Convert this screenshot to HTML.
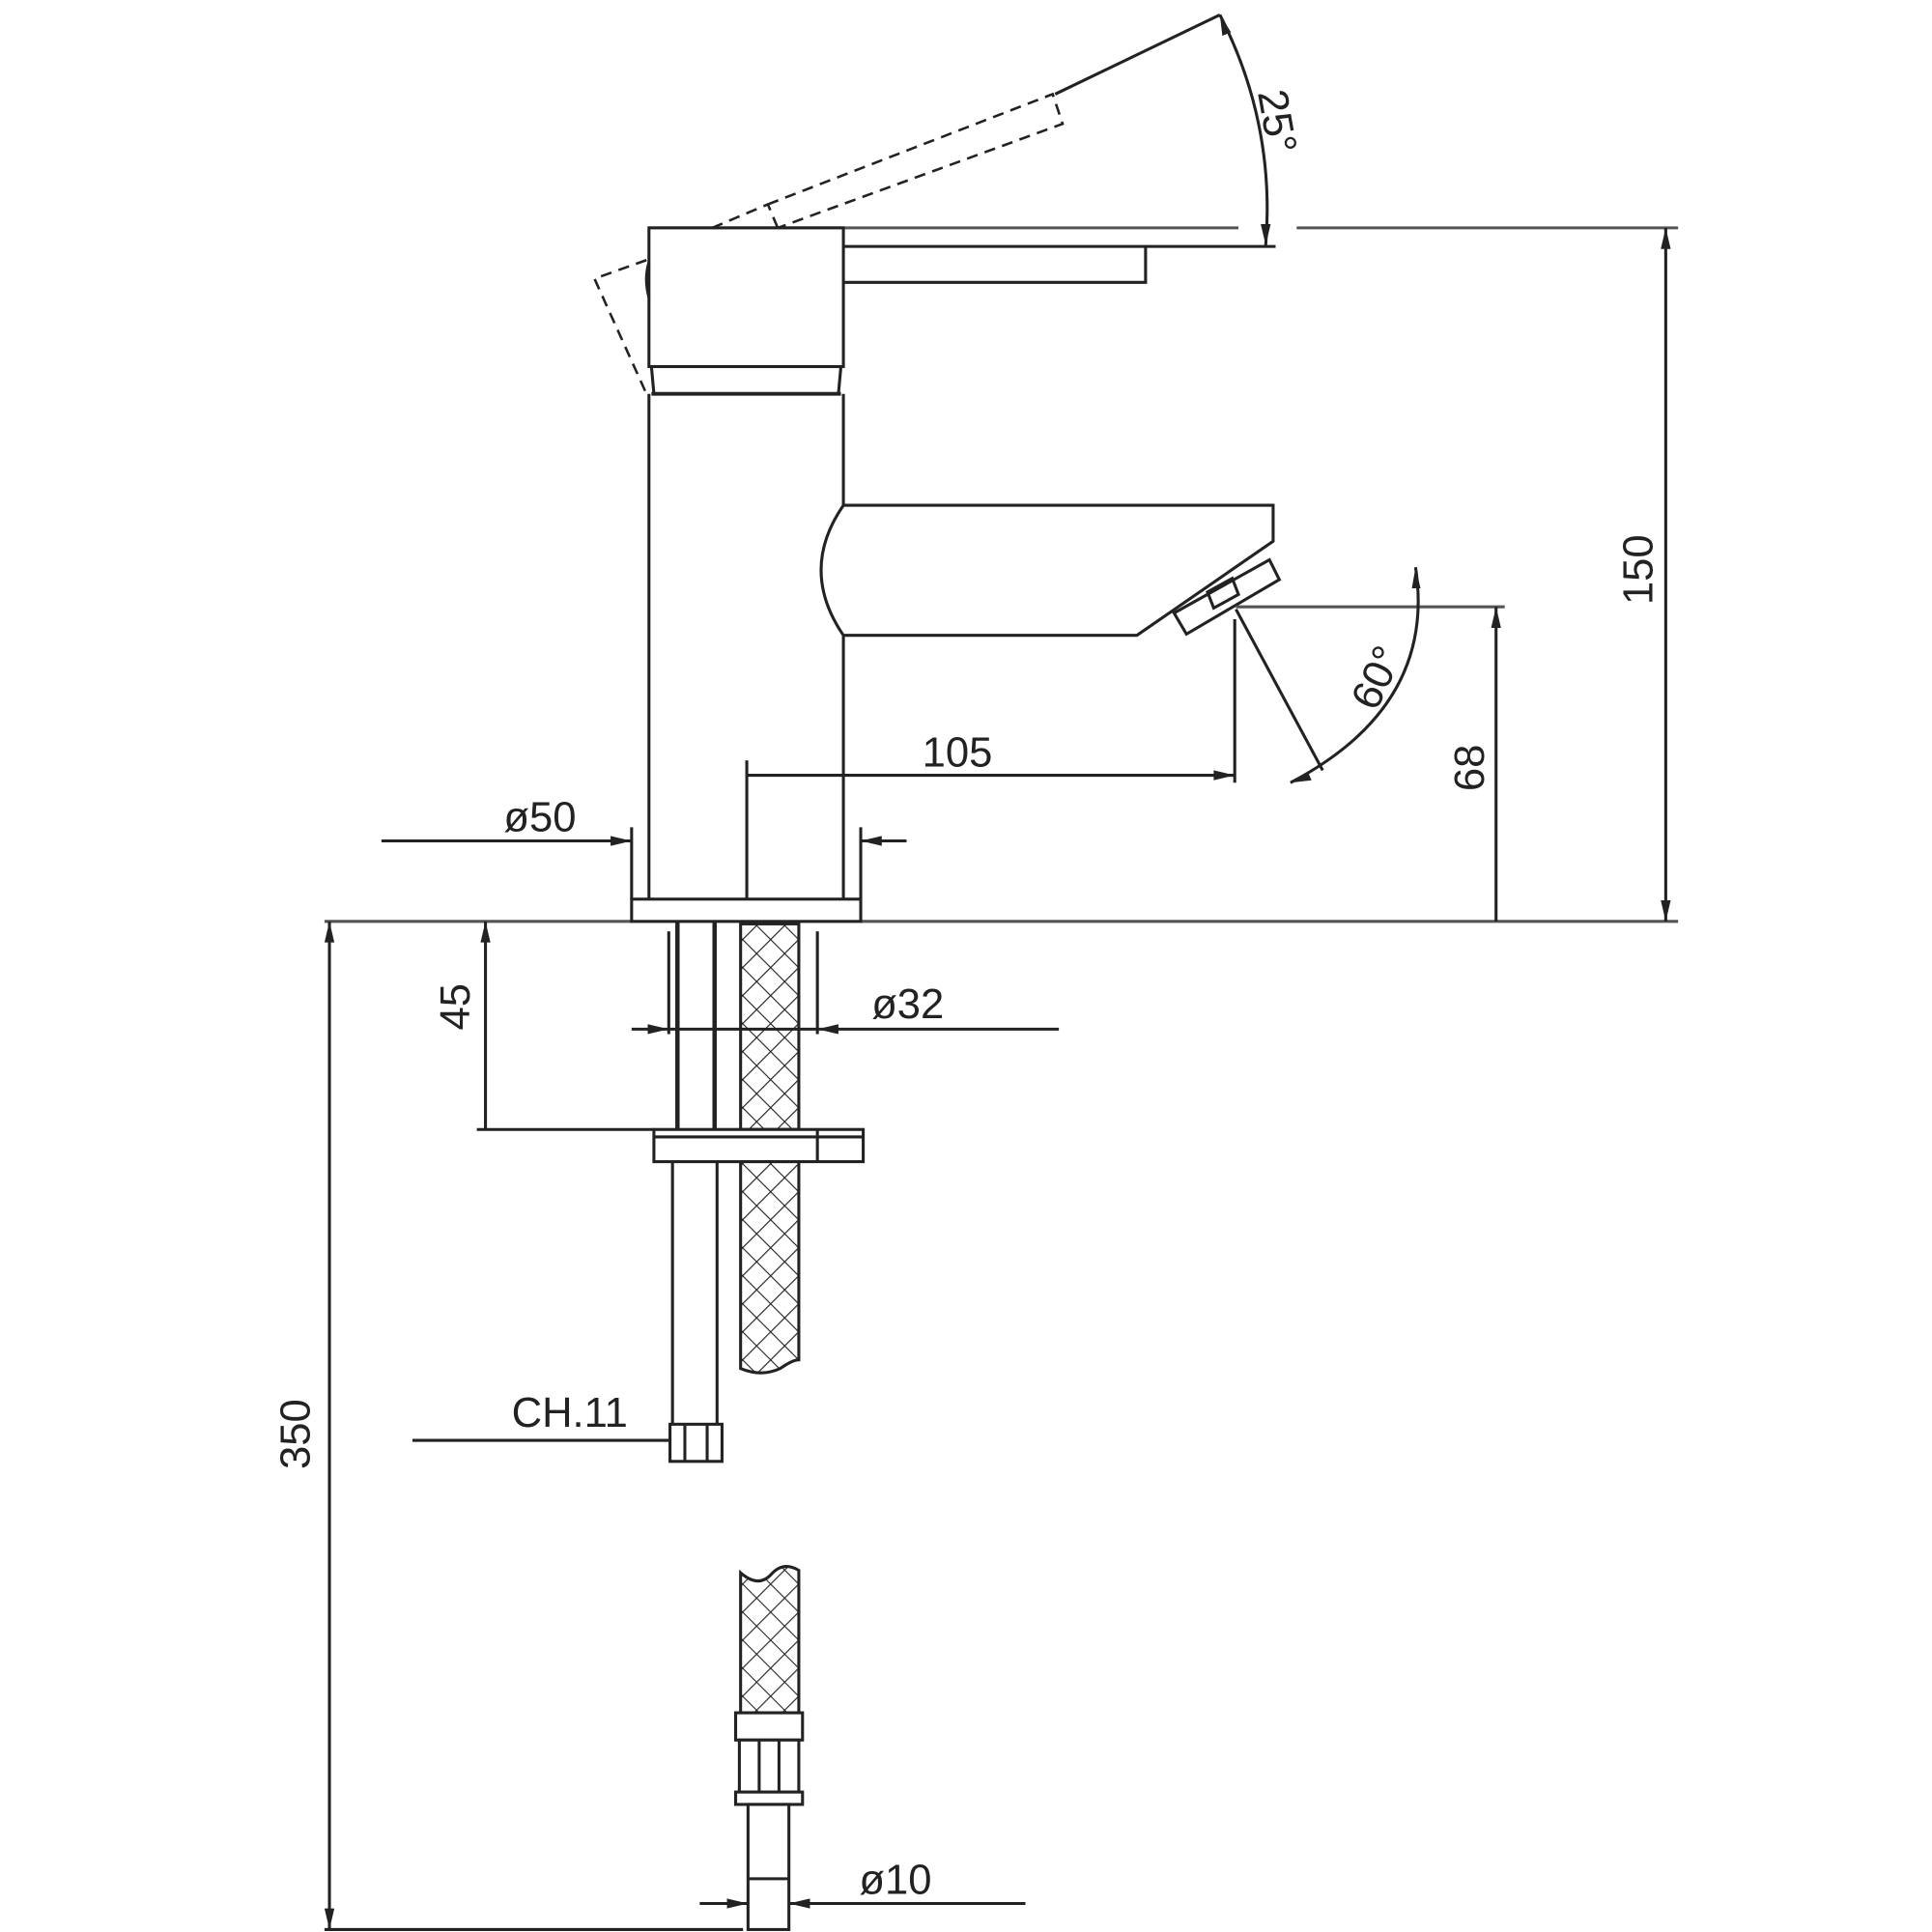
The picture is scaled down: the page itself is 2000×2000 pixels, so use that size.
<!DOCTYPE html>
<html><head><meta charset="utf-8"><style>
html,body{margin:0;padding:0;background:#fff;}
svg{display:block;}
text{font-family:"Liberation Sans",sans-serif;fill:#222;}
</style></head><body>
<svg width="2000" height="2000" viewBox="0 0 1560 1560" xmlns="http://www.w3.org/2000/svg">
<defs>
<pattern id="hatch" width="16" height="16" patternUnits="userSpaceOnUse" patternTransform="rotate(45)">
<rect width="16" height="16" fill="#fff"/>
<line x1="0" y1="0" x2="0" y2="16" stroke="#222" stroke-width="1.8"/>
<line x1="0" y1="0" x2="16" y2="0" stroke="#222" stroke-width="1.8"/>
</pattern>
</defs>
<g stroke="#222" stroke-width="2.4" fill="none">
<line x1="524" y1="184" x2="1000" y2="184" stroke="#555"/>
<line x1="1047" y1="184" x2="1355" y2="184" stroke="#555"/>
<rect x="524" y="184" width="157" height="112" fill="#fff"/>
<path d="M526 296 L528 318 M679 296 L677 318"/>
<line x1="526" y1="318" x2="679" y2="318" stroke-width="3"/>
<path d="M681 199 L925 199 L925 228 L681 228"/>
<line x1="925" y1="199" x2="1030" y2="199"/>
<g stroke-dasharray="9,6" stroke-width="2">
<path d="M575 184 L620 165 L628 184"/>
<path d="M620 165 L850 76 L858 100 L628 184"/>
<path d="M522 210 L480 225 L522 318"/>
</g>
<path d="M524 212 Q520 225 524 240"/>
<line x1="852" y1="76" x2="985" y2="12"/>
<path d="M985 12 Q1030 100 1022 198"/>
<line x1="524" y1="318" x2="524" y2="726"/>
<line x1="681" y1="318" x2="681" y2="408"/>
<line x1="681" y1="513" x2="681" y2="726"/>
<path d="M681 408 L1028 408 L1028 437 L918 513 L681 513 Q645 460 681 408" fill="#fff"/>
<path d="M948 495 L1025 452 L1033 468 L958 512 Z" fill="#fff"/>
<path d="M975 478 L995 467 L1000 480 L980 491 Z"/>
<line x1="998" y1="490" x2="1215" y2="490" stroke="#555"/>
<line x1="997" y1="500" x2="997" y2="632"/>
<line x1="998" y1="492" x2="1068" y2="622"/>
<path d="M1143 458 Q1160 570 1042 632"/>
<line x1="603" y1="626" x2="997" y2="626"/>
<line x1="603" y1="614" x2="603" y2="740"/>
<line x1="308" y1="679" x2="510" y2="679"/>
<line x1="732" y1="679" x2="695" y2="679"/>
<line x1="510" y1="668" x2="510" y2="726"/>
<line x1="695" y1="668" x2="695" y2="726"/>
<line x1="262" y1="744" x2="510" y2="744" stroke="#555"/>
<line x1="695" y1="744" x2="1355" y2="744" stroke="#555"/>
<rect x="510" y="726" width="185" height="18" fill="#fff"/>
<line x1="1208" y1="744" x2="1208" y2="490"/>
<line x1="1345" y1="744" x2="1345" y2="184"/>
<line x1="547" y1="744" x2="547" y2="912" stroke-width="3.5"/>
<line x1="577" y1="744" x2="577" y2="912" stroke-width="3.5"/>
<rect x="598" y="746" width="47" height="166" fill="url(#hatch)"/>
<line x1="540" y1="752" x2="540" y2="835"/>
<line x1="660" y1="752" x2="660" y2="835"/>
<line x1="510" y1="831" x2="855" y2="831"/>
<line x1="392" y1="912" x2="392" y2="744"/>
<line x1="385" y1="912" x2="528" y2="912"/>
<rect x="528" y="912" width="169" height="26" fill="#fff"/>
<line x1="660" y1="912" x2="660" y2="938"/>
<line x1="528" y1="918" x2="697" y2="918"/>
<line x1="543" y1="938" x2="543" y2="1150"/>
<line x1="579" y1="938" x2="579" y2="1150"/>
<path d="M598 938 L645 938 L645 1098 Q640 1098 630 1105 Q615 1112 598 1105 Z" fill="url(#hatch)"/>
<rect x="541" y="1150" width="42" height="30" fill="#fff"/>
<line x1="553" y1="1150" x2="553" y2="1180"/>
<line x1="571" y1="1150" x2="571" y2="1180"/>
<line x1="333" y1="1163" x2="541" y2="1163"/>
<line x1="266" y1="1558" x2="266" y2="744"/>
<line x1="262" y1="1558" x2="600" y2="1558"/>
<path d="M598 1270 Q612 1282 622 1272 Q632 1260 645 1268 L645 1383 L598 1383 Z" fill="url(#hatch)"/>
<rect x="594" y="1383" width="54" height="22" fill="#fff"/>
<rect x="597" y="1405" width="48" height="42" fill="#fff"/>
<line x1="613" y1="1405" x2="613" y2="1447"/>
<line x1="629" y1="1405" x2="629" y2="1447"/>
<rect x="594" y="1447" width="54" height="10" fill="#fff"/>
<rect x="604" y="1457" width="33" height="101" fill="#fff"/>
<line x1="604" y1="1517" x2="637" y2="1517"/>
<line x1="565" y1="1537" x2="604" y2="1537"/>
<line x1="828" y1="1537" x2="637" y2="1537"/>
</g>
<g fill="#222" stroke="none">
<!-- arrowheads -->
<path d="M985 12 l2 17 l7 -3 z"/>
<path d="M1022 198 l-4 -17 l8 0 z"/>
<path d="M1143 458 l-3 17 l7 0 z"/>
<path d="M1042 632 l14 -9 l3 7 z"/>
<path d="M997 626 l-17 -4 l0 8 z"/>
<path d="M510 679 l-17 -4 l0 8 z"/>
<path d="M695 679 l17 -4 l0 8 z"/>
<path d="M1208 490 l-4 17 l8 0 z"/>
<path d="M1345 184 l-4 17 l8 0 z"/>
<path d="M1345 744 l-4 -17 l8 0 z"/>
<path d="M540 831 l-17 -4 l0 8 z"/>
<path d="M660 831 l17 -4 l0 8 z"/>
<path d="M392 744 l-4 17 l8 0 z"/>
<path d="M266 744 l-4 17 l8 0 z"/>
<path d="M266 1558 l-4 -17 l8 0 z"/>
<path d="M604 1537 l-17 -4 l0 8 z"/>
<path d="M637 1537 l17 -4 l0 8 z"/>
</g>
<g font-size="34">
<text x="773" y="619" text-anchor="middle">105</text>
<text x="436" y="671" text-anchor="middle">ø50</text>
<text x="733" y="822" text-anchor="middle">ø32</text>
<text x="460" y="1152" text-anchor="middle">CH.11</text>
<text x="723" y="1529" text-anchor="middle">ø10</text>
<text transform="translate(1198,620) rotate(-90)" text-anchor="middle">68</text>
<text transform="translate(1334,460) rotate(-90)" text-anchor="middle">150</text>
<text transform="translate(250,1158) rotate(-90)" text-anchor="middle">350</text>
<text transform="translate(379,813) rotate(-90)" text-anchor="middle">45</text>
<text transform="translate(1020,100) rotate(80)" text-anchor="middle">25°</text>
<text transform="translate(1122,552) rotate(-65)" text-anchor="middle">60°</text>
</g>
</svg>
</body></html>
